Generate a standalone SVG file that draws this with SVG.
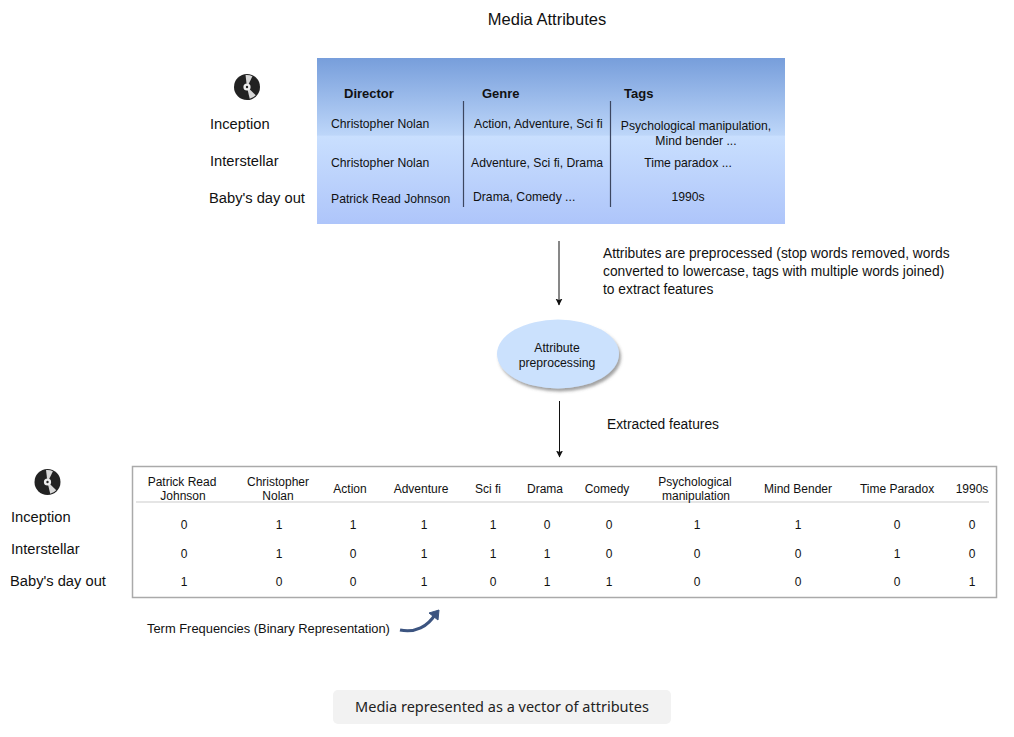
<svg xmlns="http://www.w3.org/2000/svg" width="1014" height="737" viewBox="0 0 1014 737">
<style>
text{font-family:"Liberation Sans",Arial,sans-serif;fill:#111}
.a{font-size:13.8px}
.b{font-size:13px;font-weight:bold}
.c{font-size:12.2px}
.l{font-size:14.7px}
.m{text-anchor:middle}
.t{font-size:12px;text-anchor:middle}
</style>
<defs>
<linearGradient id="g" x1="0" y1="0" x2="0" y2="1">
<stop offset="0" stop-color="#779edb"/><stop offset="0.465" stop-color="#bdd6f9"/><stop offset="0.47" stop-color="#c9dffe"/><stop offset="1" stop-color="#aec5fa"/>
</linearGradient>
<marker id="ah" markerWidth="8" markerHeight="8" refX="6.500" refY="3.500" orient="auto" markerUnits="userSpaceOnUse"><path d="M0 0L7 3.500L0 7L1.500 3.500Z" fill="#111"/></marker>
<filter id="s" x="-10%" y="-10%" width="125%" height="130%"><feDropShadow dx="2" dy="3" stdDeviation="1.500" flood-color="#555" flood-opacity="0.55"/></filter>
<g id="disc"><circle r="13" fill="#222"/><path d="M-1 -3L-3.500 -11.500A12 12 0 0 1 3.500 -11.500L1 -3Z" transform="rotate(10)" fill="#d8d8d8"/><path d="M-1 -3L-3.500 -11.500A12 12 0 0 1 3.500 -11.500L1 -3Z" transform="rotate(150)" fill="#d8d8d8"/><circle r="3.600" fill="#eee"/><circle r="1.200" fill="#222"/></g>
</defs>
<rect width="1014" height="737" fill="#fff"/>
<text id="title" x="547" y="25" class="m" style="font-size:16.500px">Media Attributes</text>
<g id="attributes-table">
<rect x="317" y="58" width="468" height="166" fill="url(#g)"/>
<use href="#disc" x="247" y="87"/>
<text x="344" y="98" class="b">Director</text><text x="482" y="98" class="b">Genre</text><text x="624" y="98" class="b">Tags</text>
<path d="M463.500 101V207M610.500 101V207" stroke="#3c4660" stroke-width="1.200" fill="none"/>
<text x="210" y="129" class="l">Inception</text><text x="210" y="166" class="l">Interstellar</text><text x="209" y="203" class="l">Baby's day out</text>
<text x="331" y="128" class="c">Christopher Nolan</text><text x="331" y="167" class="c">Christopher Nolan</text><text x="331" y="203" class="c">Patrick Read Johnson</text>
<text x="474" y="128" class="c">Action, Adventure, Sci fi</text><text x="471" y="167" class="c">Adventure, Sci fi, Drama</text><text x="473" y="201" class="c">Drama, Comedy ...</text>
<text x="696" y="130" class="c m">Psychological manipulation,</text><text x="696" y="145" class="c m">Mind bender ...</text><text x="688" y="167" class="c m">Time paradox ...</text><text x="688" y="201" class="c m">1990s</text>
</g>
<g id="connectors" fill="none" stroke="#111" stroke-width="1">
<path d="M559 241V305" marker-end="url(#ah)"/>
<path d="M559.500 401V457" marker-end="url(#ah)"/>
<path d="M400 630C415 633 428 627 436 613" stroke="#3c5480" stroke-width="3.200"/>
<path d="M429 613L439 610L438 620Z" fill="#3c5480" stroke="#3c5480" stroke-width="1"/>
</g>
<g id="note-1"><text x="603" y="258" class="a">Attributes are preprocessed (stop words removed, words</text><text x="603" y="276" class="a">converted to lowercase, tags with multiple words joined)</text><text x="603" y="294" class="a">to extract features</text></g>
<g id="attribute-preprocessing"><ellipse cx="558" cy="354" rx="61" ry="34.500" fill="#cbe1fd" filter="url(#s)"/><text x="557" y="352" class="c m">Attribute</text><text x="557" y="367" class="c m">preprocessing</text></g>
<g id="note-2"><text x="607" y="429" class="a">Extracted features</text></g>
<g id="feature-table">
<rect x="132.500" y="466.500" width="864" height="131" fill="#fff" stroke="#aaa" stroke-width="1.500"/>
<path d="M136 502H989" stroke="#ccc" stroke-width="1.200"/>
<use href="#disc" x="47.500" y="482"/>
<text x="11" y="522" class="l">Inception</text><text x="11" y="554" class="l">Interstellar</text><text x="10" y="586" class="l">Baby's day out</text>
<g class="hd">
<text x="182" y="486" class="t">Patrick Read</text><text x="183" y="500" class="t">Johnson</text>
<text x="278" y="486" class="t">Christopher</text><text x="278" y="500" class="t">Nolan</text>
<text x="350" y="493" class="t">Action</text><text x="421" y="493" class="t">Adventure</text><text x="488" y="493" class="t">Sci fi</text><text x="545" y="493" class="t">Drama</text><text x="607" y="493" class="t">Comedy</text>
<text x="695" y="486" class="t">Psychological</text><text x="696" y="500" class="t">manipulation</text>
<text x="798" y="493" class="t">Mind Bender</text><text x="897" y="493" class="t">Time Paradox</text><text x="972" y="493" class="t">1990s</text>
</g>
<g class="r1"><text x="184" y="529" class="t">0</text><text x="279" y="529" class="t">1</text><text x="353" y="529" class="t">1</text><text x="424" y="529" class="t">1</text><text x="493" y="529" class="t">1</text><text x="547" y="529" class="t">0</text><text x="609" y="529" class="t">0</text><text x="697" y="529" class="t">1</text><text x="798" y="529" class="t">1</text><text x="897" y="529" class="t">0</text><text x="972" y="529" class="t">0</text></g>
<g class="r2"><text x="184" y="558" class="t">0</text><text x="279" y="558" class="t">1</text><text x="353" y="558" class="t">0</text><text x="424" y="558" class="t">1</text><text x="493" y="558" class="t">1</text><text x="547" y="558" class="t">1</text><text x="609" y="558" class="t">0</text><text x="697" y="558" class="t">0</text><text x="798" y="558" class="t">0</text><text x="897" y="558" class="t">1</text><text x="972" y="558" class="t">0</text></g>
<g class="r3"><text x="184" y="586" class="t">1</text><text x="279" y="586" class="t">0</text><text x="353" y="586" class="t">0</text><text x="424" y="586" class="t">1</text><text x="493" y="586" class="t">0</text><text x="547" y="586" class="t">1</text><text x="609" y="586" class="t">1</text><text x="697" y="586" class="t">0</text><text x="798" y="586" class="t">0</text><text x="897" y="586" class="t">0</text><text x="972" y="586" class="t">1</text></g>
</g>
<g id="term-frequencies"><text x="147" y="633" style="font-size:12.900px">Term Frequencies (Binary Representation)</text></g>
<g id="caption"><rect x="333" y="690" width="338" height="34" rx="5" fill="#f2f2f2"/><text x="502" y="712" class="m" style="font-family:'Noto Sans','Open Sans',sans-serif;font-size:14.500px;fill:#222">Media represented as a vector of attributes</text></g>
</svg>
